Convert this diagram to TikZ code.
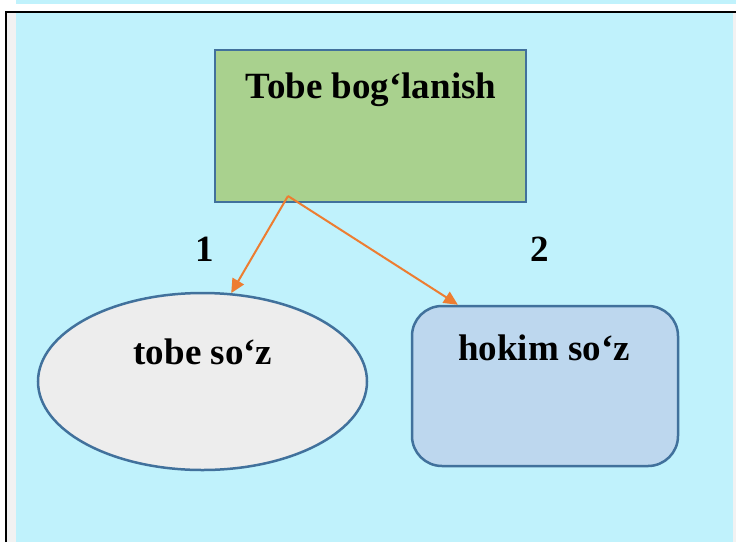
\documentclass[tikz,border=0pt]{standalone}
\usepackage{fontspec}
\setmainfont{Liberation Serif}
\usepackage{tikz}
\usetikzlibrary{arrows.meta,positioning,shapes.geometric}
\definecolor{skyfill}{HTML}{C0F2FC}
\definecolor{sidegray}{HTML}{F2F2F2}
\definecolor{boxline}{HTML}{41719C}
\definecolor{greenfill}{HTML}{A9D18E}
\definecolor{grayfill}{HTML}{EDEDED}
\definecolor{bluefill}{HTML}{BDD7EE}
\definecolor{linkorange}{HTML}{ED7D31}
\begin{document}
\begin{tikzpicture}[x=1pt,y=-1pt]
\tikzset{word/.style={font=\fontsize{37}{44}\selectfont\bfseries,inner sep=0pt,anchor=base}}
\tikzset{shapebox/.style={draw=boxline,line width=2.5pt,inner sep=0pt}}
\tikzset{link/.style={draw=linkorange,line width=2pt,-{Triangle[length=14pt,width=13pt]}}}
\useasboundingbox (0,0) rectangle (736,542);
\fill[skyfill] (16,0) rectangle (736,4);
\fill[sidegray] (7,13) rectangle (16,542);
\fill[sidegray] (733,13) rectangle (736,542);
\fill[skyfill] (16,13) rectangle (733,542);
\draw[line width=2pt] (6,542) -- (6,12) -- (736,12);
\node[shapebox,fill=greenfill,minimum width=311pt,minimum height=152pt] (bog) at (370.5,126) {};
\node[shapebox,ellipse,fill=grayfill,minimum width=329pt,minimum height=177pt] (tobe) at (202.5,381.5) {};
\node[shapebox,fill=bluefill,rounded corners=30pt,minimum width=266pt,minimum height=160pt] (hokim) at (545,386) {};
\node[word] (bogt) at (371,98) {Tobe bogʻlanish};
\node[word] (one) at (205,261) {1};
\node[word] (two) at (540,261) {2};
\node[word] (tobet) at (203,364) {tobe so‘z};
\node[word] (hokimt) at (544,360) {hokim so‘z};
\coordinate (bogout) at (288,196);
\draw[link] (bogout) -- (tobe.72);
\draw[link] (bogout) -- (hokim.137);
\end{tikzpicture}
\end{document}
